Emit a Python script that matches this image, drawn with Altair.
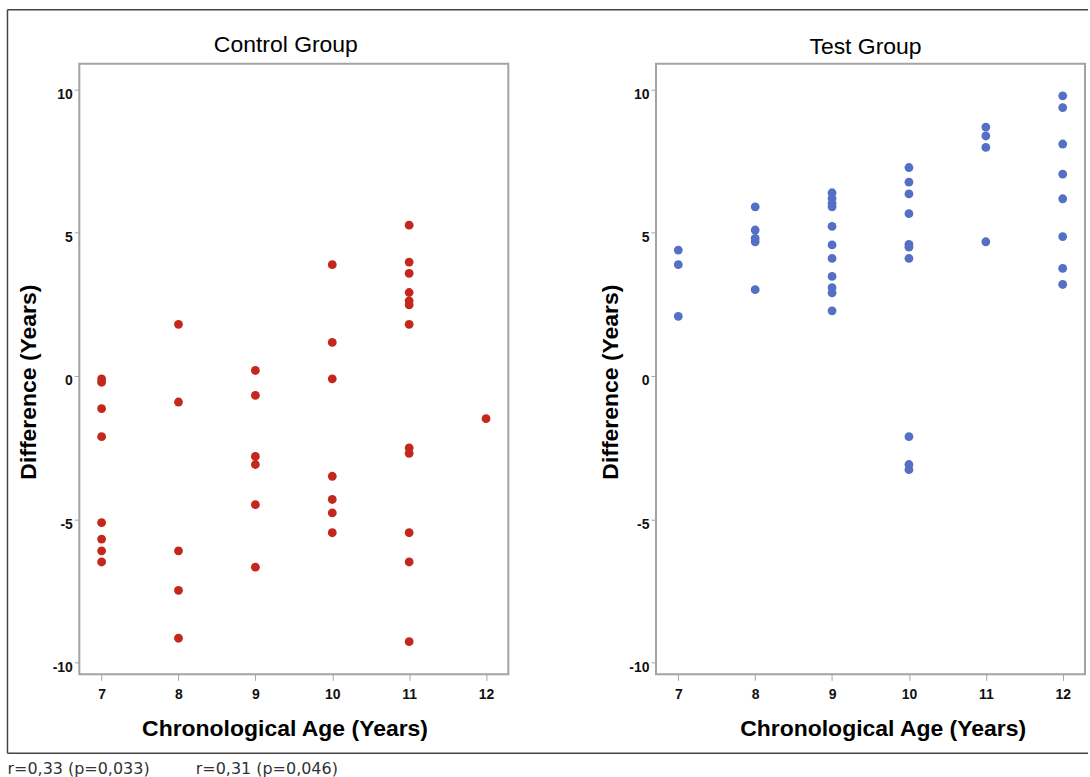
import altair as alt
import pandas as pd

# ---------------- data ----------------
control_age = [7, 7, 7, 7, 7, 7, 7, 7,
               8, 8, 8, 8, 8,
               9, 9, 9, 9, 9, 9,
               10, 10, 10, 10, 10, 10, 10,
               11, 11, 11, 11, 11, 11, 11, 11, 11, 11, 11, 11,
               12]
control_diff = [-0.10, -0.22, -1.14, -2.12, -5.12, -5.69, -6.10, -6.49,
                1.80, -0.91, -6.10, -7.48, -9.15,
                0.19, -0.68, -2.81, -3.09, -4.49, -6.67,
                3.88, 1.17, -0.10, -3.50, -4.31, -4.78, -5.47,
                5.26, 3.97, 3.58, 2.91, 2.62, 2.48, 1.80, -2.51, -2.70, -5.47, -6.49, -9.27,
                -1.49]

test_age = [7, 7, 7,
            8, 8, 8, 8, 8,
            9, 9, 9, 9, 9, 9, 9, 9, 9, 9, 9,
            10, 10, 10, 10, 10, 10, 10, 10, 10, 10,
            11, 11, 11, 11,
            12, 12, 12, 12, 12, 12, 12, 12]
test_diff = [4.39, 3.88, 2.08,
             5.90, 5.09, 4.80, 4.68, 3.01,
             6.39, 6.19, 6.02, 5.90, 5.22, 4.57, 4.10, 3.47, 3.08, 2.90, 2.27,
             7.27, 6.76, 6.35, 5.66, 4.59, 4.49, 4.10, -2.12, -3.09, -3.27,
             8.68, 8.37, 7.97, 4.68,
             9.77, 9.36, 8.09, 7.04, 6.18, 4.86, 3.75, 3.19]

panel_titles = ["Control Group", "Test Group"]
x_title = "Chronological Age (Years)"
y_title = "Difference (Years)"
stat_labels = ["r=0,33 (p=0,033)", "r=0,31 (p=0,046)"]

x_ticks = [7, 8, 9, 10, 11, 12]
y_ticks = [-10, -5, 0, 5, 10]
x_domain = [6.71, 12.29]
y_domain = [-10.41, 10.89]

RED = "#c3281e"
BLUE = "#5470c4"
FONT = "Liberation Sans"
W, H = 430, 612

control_df = pd.DataFrame({"age": control_age, "diff": control_diff})
test_df = pd.DataFrame({"age": test_age, "diff": test_diff})
one_row = pd.DataFrame({"k": [0]})


def points(df, color, x_title_x, y_title_x):
    return alt.Chart(df).mark_circle(size=78, color=color, opacity=1).encode(
        x=alt.X("age:Q",
                scale=alt.Scale(domain=x_domain, nice=False, zero=False),
                axis=alt.Axis(values=x_ticks, title=x_title, titleX=x_title_x,
                              titleY=61.3, titleBaseline="alphabetic",
                              titleAlign="center")),
        y=alt.Y("diff:Q",
                scale=alt.Scale(domain=y_domain, nice=False, zero=False),
                axis=alt.Axis(values=y_ticks, title=y_title, titleX=y_title_x,
                              titleY=318.6, titleBaseline="alphabetic",
                              titleAlign="center", titleAngle=270,
                              labelExpr="replace(datum.label, '\u2212', '-')")),
    )


frame_color = "#454545"
border_top = alt.Chart(one_row).mark_rule(color=frame_color, strokeWidth=1.5).encode(
    x=alt.value(-72), x2=alt.value(1011), y=alt.value(-54))
border_left = alt.Chart(one_row).mark_rule(color=frame_color, strokeWidth=1.5).encode(
    x=alt.value(-72), y=alt.value(-54), y2=alt.value(691))
border_bottom = alt.Chart(one_row).mark_rule(color=frame_color, strokeWidth=1.5).encode(
    x=alt.value(-72), x2=alt.value(1011), y=alt.value(691))

note_style = dict(align="left", baseline="alphabetic", font="DejaVu Sans",
                  fontSize=16, color="#333333")
note1 = alt.Chart(one_row).mark_text(**note_style).encode(
    x=alt.value(-72), y=alt.value(711.6), text=alt.value(stat_labels[0]))
note2 = alt.Chart(one_row).mark_text(**note_style).encode(
    x=alt.value(116.7), y=alt.value(711.6), text=alt.value(stat_labels[1]))

left = alt.layer(
    points(control_df, RED, 205.7, -44.3),
    border_top, border_left, border_bottom, note1, note2,
).properties(
    width=W, height=H,
    title=alt.TitleParams(panel_titles[0], font=FONT, fontSize=23, fontWeight="normal",
                          color="black", baseline="alphabetic", frame="group",
                          anchor="middle", offset=-65.5, dx=-8),
)

right = points(test_df, BLUE, 227.2, -38.3).properties(
    width=W, height=H,
    title=alt.TitleParams(panel_titles[1], font=FONT, fontSize=23, fontWeight="normal",
                          color="black", baseline="alphabetic", frame="group",
                          anchor="middle", offset=-13.3, dx=-5),
)

chart = alt.hconcat(left, right, spacing=148, bounds="flush").properties(
    padding={"left": 5.5, "top": 7, "right": 0, "bottom": 0},
    background="white",
).configure_view(
    stroke="#a3a3a3", strokeWidth=2,
).configure_axis(
    grid=False, domain=False,
    labelFont=FONT, labelFontSize=14, labelFontWeight="bold", labelColor="#111111",
    tickColor="#a3a3a3", tickWidth=1,
    titleFont=FONT, titleFontSize=23, titleFontWeight="bold", titleColor="black",
).configure_axisX(
    tickSize=6, labelPadding=18.7, labelBaseline="alphabetic",
).configure_axisY(
    tickSize=5, labelPadding=2, labelOffset=5, labelBaseline="middle",
)

chart.save("out.html", embed_options={"renderer": "svg", "actions": False})
